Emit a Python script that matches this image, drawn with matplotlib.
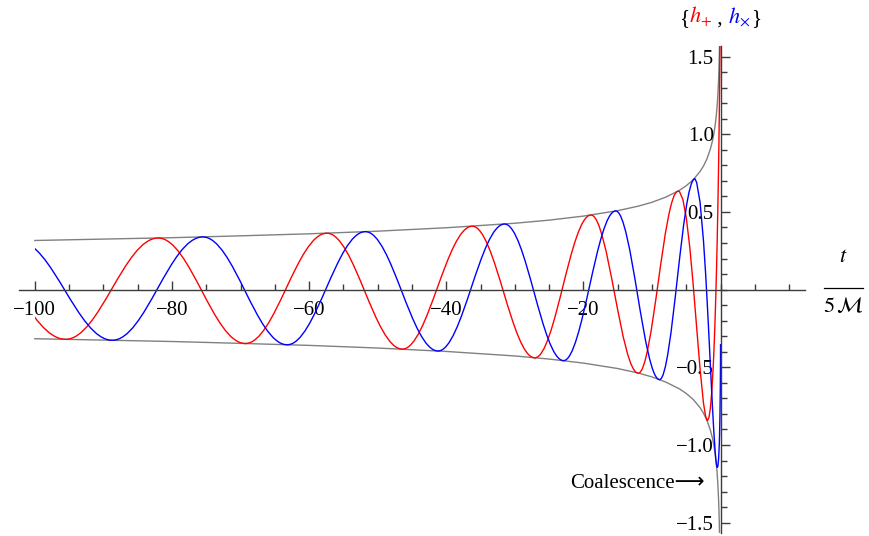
import numpy as np
import matplotlib
matplotlib.use('Agg') # so salva arquivo, sem janela
import matplotlib.pyplot as plt
from matplotlib.path import Path
from matplotlib.patches import PathPatch, Rectangle
from matplotlib.lines import Line2D
from matplotlib.offsetbox import TextArea, HPacker, AnnotationBbox
from matplotlib.ticker import FixedLocator, FixedFormatter, MultipleLocator

# valores, t em unidades de 5M
# h+ : maximos/minimos (o primeiro fica antes de -100 e e cortado)
hPlusExtT = [-109.8, -95.5, -82.0, -69.3, -57.4, -46.4, -36.2, -27.1, -18.9, -12.0, -6.2]
hPlusExtH = [0.309, -0.320, 0.332, -0.347, 0.363, -0.383, 0.408, -0.439, 0.480, -0.538, 0.633]
# h+ : trecho final, oscila rapido perto da coalescencia
hPlusTailT = [-6.0, -5.5, -5.0, -4.5, -4.0, -3.5, -3.0, -2.5, -2.2, -2.0, -1.9, -1.7, -1.5,
              -1.3, -1.1, -1.0, -0.9, -0.8, -0.7, -0.6, -0.5, -0.4, -0.3, -0.25, -0.2,
              -0.15, -0.1, -0.07]
hPlusTailH = [0.631, 0.579, 0.459, 0.273, 0.031, -0.242, -0.511, -0.731, -0.812, -0.840,
              -0.842, -0.822, -0.765, -0.662, -0.511, -0.416, -0.305, -0.179, -0.032,
              0.132, 0.321, 0.539, 0.796, 0.943, 1.112, 1.316, 1.582, 1.80]

# hx
hCrossExtT = [-102.5, -88.7, -75.5, -63.2, -51.8, -41.2, -31.5, -22.9, -15.3, -8.9, -3.75]
hCrossExtH = [0.315, -0.326, 0.339, -0.355, 0.373, -0.395, 0.422, -0.457, 0.506, -0.579, 0.713]
hCrossTailT = [-3.5, -3.0, -2.5, -2.2, -2.0, -1.8, -1.6, -1.4, -1.2, -1.0, -0.8, -0.7, -0.6,
               -0.5, -0.4, -0.3, -0.2, -0.15, -0.1, -0.05, -0.02, -0.01]
hCrossTailH = [0.690, 0.562, 0.313, 0.110, -0.048, -0.217, -0.394, -0.574, -0.748, -0.909,
               -1.042, -1.093, -1.128, -1.145, -1.136, -1.092, -0.999, -0.922, -0.812,
               -0.64, -0.46, -0.35]

# envelope (cinza), simetrico
envT = [-100, -90, -80, -70, -60, -50, -40, -30, -25, -20, -15, -12, -10, -8, -6, -5, -4,
        -3, -2.5, -2, -1.5, -1.2, -1.0, -0.8, -0.6, -0.5, -0.4, -0.3, -0.25, -0.2, -0.17, -0.15]
envH = [0.316, 0.325, 0.334, 0.346, 0.359, 0.376, 0.398, 0.427, 0.447, 0.473, 0.508, 0.537,
        0.562, 0.595, 0.639, 0.669, 0.707, 0.760, 0.795, 0.841, 0.904, 0.955, 1.0, 1.057,
        1.136, 1.189, 1.257, 1.351, 1.414, 1.495, 1.557, 1.607]

xTicks = [-100, -80, -60, -40, -20]
xTickLabels = ['\u2212100', '\u221280', '\u221260', '\u221240', '\u221220']
yTicks = [-1.5, -1.0, -0.5, 0.5, 1.0, 1.5]
yTickLabels = ['\u22121.5', '\u22121.0', '\u22120.5', '0.5', '1.0', '1.5']

plt.rcParams['font.family'] = ['Liberation Serif', 'DejaVu Sans']
plt.rcParams['mathtext.fontset'] = 'stix'

axisColor = '#3c3c3c'
yMax = 1.565

# meia onda entre extremos como bezier cubica (a=0.364 aproxima o cosseno)
def chirpPath(extT, extH, tailT, tailH, a=0.364):
    verts = [(extT[0], extH[0])]
    codes = [Path.MOVETO]
    for i in range(1, len(extT)):
        t0, h0 = extT[i - 1], extH[i - 1]
        t1, h1 = extT[i], extH[i]
        dt = t1 - t0
        verts += [(t0 + a * dt, h0), (t1 - a * dt, h1), (t1, h1)]
        codes += [Path.CURVE4] * 3
    for t, h in zip(tailT, tailH):
        verts.append((t, h))
        codes.append(Path.LINETO)
    return Path(verts, codes)

fig = plt.figure(figsize=(8.7, 5.36), dpi=100)
ax = fig.add_axes([19 / 870, 3.2 / 536, 786 / 870, 486.4 / 536])
ax.set_xlim(-102.3, 12.3)
ax.set_ylim(-yMax, yMax)
ax.patch.set_visible(False)

env = np.array(envH)
ax.plot(envT, env, color='#808080', lw=1.0, zorder=1)
ax.plot(envT, -env, color='#808080', lw=1.0, zorder=1)

for extT, extH, tailT, tailH, col in [
        (hPlusExtT, hPlusExtH, hPlusTailT, hPlusTailH, '#ff0000'),
        (hCrossExtT, hCrossExtH, hCrossTailT, hCrossTailH, '#0000ff')]:
    patch = PathPatch(chirpPath(extT, extH, tailT, tailH), fill=False,
                      edgecolor=col, lw=1.0, zorder=2)
    ax.add_patch(patch)
    # dominio do plot: -100 <= t <= 0, cortado em +-yMax
    clip = Rectangle((-100, -yMax), 100, 2 * yMax, transform=ax.transData)
    patch.set_clip_path(clip)

# eixos estilo Mathematica, cruzando na origem
for s in ['top', 'right']:
    ax.spines[s].set_visible(False)
ax.spines['left'].set_position(('data', 0))
ax.spines['bottom'].set_position(('data', 0))
for s in ['left', 'bottom']:
    ax.spines[s].set_color(axisColor)
    ax.spines[s].set_linewidth(1.0)
    ax.spines[s].set_zorder(3)

ax.xaxis.set_major_locator(FixedLocator(xTicks))
ax.xaxis.set_major_formatter(FixedFormatter(xTickLabels))
ax.xaxis.set_minor_locator(MultipleLocator(5))
ax.yaxis.set_major_locator(FixedLocator(yTicks))
ax.yaxis.set_major_formatter(FixedFormatter(yTickLabels))
ax.yaxis.set_minor_locator(MultipleLocator(0.1))
ax.tick_params(which='both', direction='in', color=axisColor, width=1.0, labelsize=15)
ax.tick_params(which='major', length=6.5)
ax.tick_params(which='minor', length=4.2)
ax.tick_params(axis='x', pad=8)
ax.tick_params(axis='y', pad=5)

# rotulo do eixo y: {h+ , hx} colorido
parts = [TextArea('{', textprops=dict(fontsize=15)),
         TextArea('$h_{+}$', textprops=dict(fontsize=16, color='#ff0000')),
         TextArea(' , ', textprops=dict(fontsize=15)),
         TextArea(r'$h_{\times}$', textprops=dict(fontsize=16, color='#0000ff')),
         TextArea('}', textprops=dict(fontsize=15))]
label = AnnotationBbox(HPacker(children=parts, align='baseline', pad=0, sep=0),
                       (720 / 870, 1 - 17 / 536), xycoords='figure fraction',
                       frameon=False, box_alignment=(0.5, 0.5), annotation_clip=False)
fig.add_artist(label)

# rotulo do eixo x: t / 5M
fig.text(843 / 870, 1 - 257 / 536, '$t$', fontsize=16, ha='center', va='center')
fig.text(843 / 870, 1 - 307 / 536, r'$5\,\mathcal{M}$', fontsize=16, ha='center', va='center')
fig.add_artist(Line2D([824 / 870, 863 / 870], [1 - 288 / 536, 1 - 288 / 536],
                      transform=fig.transFigure, color='black', lw=0.9))

ax.text(-2.3, -1.245, 'Coalescence\u27f6', fontsize=15, ha='right', va='center')

fig.savefig('out.png', dpi=100)
